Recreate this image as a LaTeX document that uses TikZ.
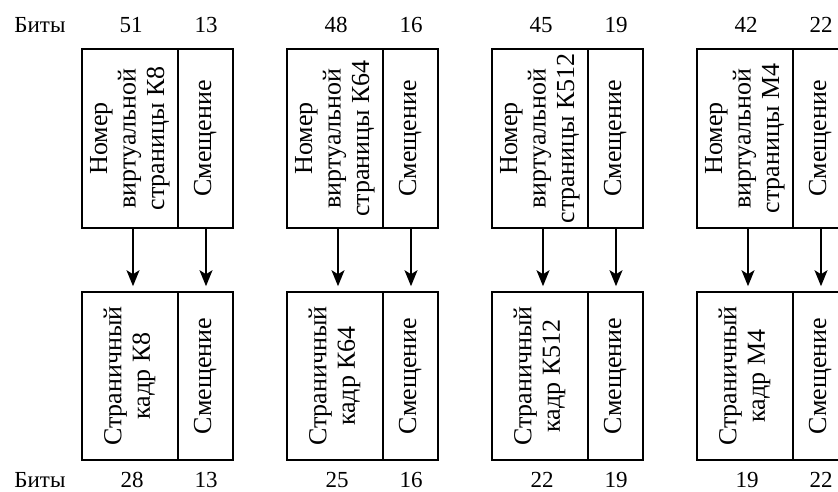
\documentclass[tikz,border=0pt]{standalone}
\usepackage{fontspec}
\setmainfont{Liberation Serif}
\usetikzlibrary{arrows.meta}
\newcommand{\vtext}[1]{\rotatebox{90}{\fontsize{26}{28.5}\selectfont\begin{tabular}{@{}c@{}}#1\end{tabular}}}
\begin{document}
\begin{tikzpicture}[x=1pt,y=-1pt,
  every node/.style={font=\fontsize{23}{27}\selectfont},
  cell/.style={draw, line width=1.6pt, inner sep=0pt},
  wide/.style={cell, minimum width=96pt},
  narrow/.style={cell, minimum width=55pt},
  upper/.style={minimum height=179pt},
  lower/.style={minimum height=168pt},
  bits/.style={inner sep=0pt},
  flow/.style={line width=1.6pt, -{Stealth[length=16pt,width=13pt,inset=4pt]}, shorten >=5pt}]
\useasboundingbox (0,0) rectangle (838,491);
\clip (0,0) rectangle (838,491);

\node[bits] (bt) at (40,25) {Биты};
\node[bits] (bb) at (40,480) {Биты};

\foreach \x/\pg/\ta/\tb/\ba/\bb [count=\i] in
  {82/К8/51/13/28/13, 287/К64/48/16/25/16, 492/К512/45/19/22/19, 697/М4/42/22/19/22}{
  % virtual address: page number and offset
  \node[wide, upper]  (tl\i) at (\x+48, 138.5) {\vtext{Номер\\виртуальной\\страницы \pg}};
  \node[narrow, upper] (tr\i) at (\x+123.5, 138.5) {\vtext{Смещение}};
  % physical address: page frame and offset
  \node[wide, lower]  (bl\i) at (\x+48, 376) {\vtext{Страничный\\кадр \pg}};
  \node[narrow, lower] (br\i) at (\x+123.5, 376) {\vtext{Смещение}};
  % field widths in bits
  \node[bits] (nta\i) at (\x+49, 25) {\ta};
  \node[bits] (ntb\i) at (\x+124, 25) {\tb};
  \node[bits] (nba\i) at (\x+50, 480) {\ba};
  \node[bits] (nbb\i) at (\x+124, 480) {\bb};
  % translation arrows
  \draw[flow] ([xshift=3pt]tl\i.south) -- ([xshift=3pt]bl\i.north);
  \draw[flow] ([xshift=0.5pt]tr\i.south) -- ([xshift=0.5pt]br\i.north);
}
\end{tikzpicture}
\end{document}
